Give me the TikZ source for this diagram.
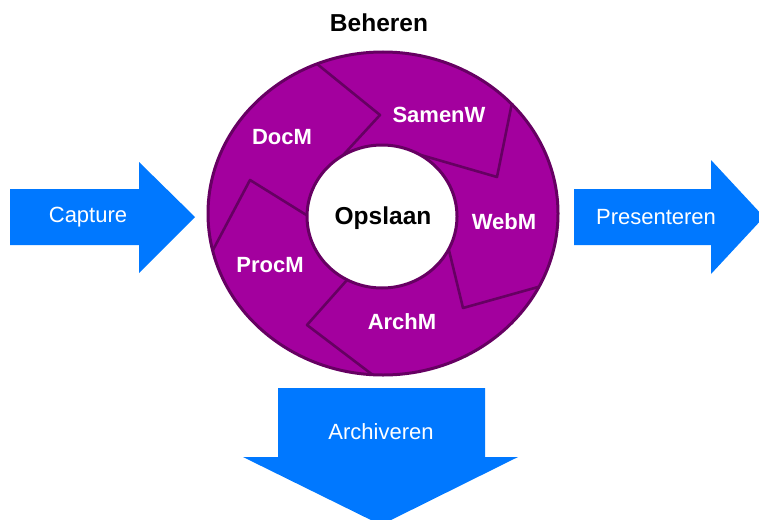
\documentclass[tikz,border=0pt]{standalone}
\usepackage{fontspec}
\setmainfont{Liberation Sans}
\usepackage{tikz}
\usetikzlibrary{calc}
\definecolor{arrowblue}{RGB}{0,120,255}
\definecolor{ringfill}{RGB}{163,0,158}
\definecolor{ringline}{RGB}{102,0,98}
\tikzset{
	blockarrow/.style={fill=arrowblue,draw=none},
	flowtext/.style={text=white,font=\fontsize{22}{26}\selectfont},
	ringlabel/.style={text=white,font=\bfseries\fontsize{22}{26}\selectfont},
	seamline/.style={draw=ringline,line width=2.6pt,line join=round}
}

\begin{document}
\begin{tikzpicture}[x=1pt,y=-1pt]
    \useasboundingbox (0,0) rectangle (759,519);
    \coordinate (ring) at (383,213.5);
    \coordinate (hole) at (382,216.5);

    % blue arrows
    \fill[blockarrow] (10,189) -- (139,189) -- (139,162) -- (195,217) -- (139,273) -- (139,245) -- (10,245) -- cycle;
    \fill[blockarrow] (574,189) -- (711,189) -- (711,160) -- (764,217) -- (711,274) -- (711,245) -- (574,245) -- cycle;
    \fill[blockarrow] (278,388) -- (485,388) -- (485,457) -- (518,457) -- (381,525) -- (243,457) -- (278,457) -- cycle;

    % ring with its five parts
    \fill[ringfill] (ring) ellipse [x radius=175, y radius=161.5];
    \begin{scope}
      \clip (ring) ellipse [x radius=175, y radius=161.5];
      \draw[seamline] (306,55) -- (380,115) -- (334,165);
      \draw[seamline] (515,88) -- (497,177) -- (407,151);
      \draw[seamline] (556,282) -- (463,308) -- (446,238);
      \draw[seamline] (386,385) -- (307,325) -- (355,271);
      \draw[seamline] (205,265) -- (250,180) -- (316,221);
    \end{scope}
    \draw[ringline,line width=3pt] (ring) ellipse [x radius=175, y radius=161.5];
    \filldraw[fill=white,draw=ringline,line width=3pt] (hole) ellipse [x radius=75, y radius=71.5];

    % texts
    \node (beheren) at (379,23) {\bfseries\fontsize{24.5}{28}\selectfont Beheren};
    \node (opslaan) at (383,218) {\bfseries\fontsize{24.5}{28}\selectfont Opslaan};
    \node (docm) [ringlabel] at (282,137) {DocM};
    \node (samenw) [ringlabel] at (439,115) {SamenW};
    \node (webm) [ringlabel] at (504,222) {WebM};
    \node (archm) [ringlabel] at (402,322) {ArchM};
    \node (procm) [ringlabel] at (270,265) {ProcM};
    \node (capture) [flowtext] at (88,217) {Capture};
    \node (presenteren) [flowtext] at (656,217) {Presenteren};
    \node (archiveren) [flowtext] at (381,432) {Archiveren};
  \end{tikzpicture}
\end{document}
